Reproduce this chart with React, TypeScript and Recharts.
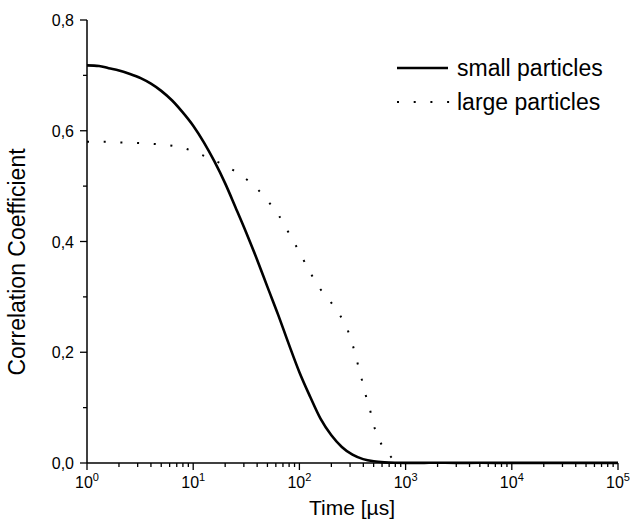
import { LineChart, Line, XAxis, YAxis } from "recharts";

// time axis (µs) and correlation values
const smallTime = [1, 1.3, 1.6, 2, 2.5, 3.2, 4, 5, 6.3, 7.9, 10, 12.6, 15.8, 20, 25, 31.6, 39.8, 50, 63, 79, 100, 126, 158, 200, 251, 316, 398, 501, 631, 794, 1000, 1500, 2000, 3000, 5000, 10000, 20000, 50000, 100000];
const smallValue = [0.718, 0.717, 0.713, 0.709, 0.703, 0.695, 0.685, 0.672, 0.655, 0.634, 0.609, 0.579, 0.545, 0.505, 0.462, 0.416, 0.368, 0.318, 0.268, 0.216, 0.164, 0.12, 0.08, 0.05, 0.029, 0.015, 0.007, 0.003, 0.0012, 0.0005, 0.0003, 0.0003, 0.0005, 0.0002, 0.0004, 0.0002, 0.0003, 0.0002, 0.0002];

const largeTime = [1, 1.5, 2, 3, 4.4, 5.8, 8.7, 12.2, 17.3, 23.8, 31, 40.6, 51.5, 64, 77, 91.7, 109, 129, 156, 193, 241, 285, 320, 351, 383, 418, 462, 504, 574, 692, 800, 1000, 2000, 5000, 10000, 100000];
const largeValue = [0.58, 0.58, 0.579, 0.578, 0.576, 0.574, 0.567, 0.556, 0.543, 0.529, 0.514, 0.494, 0.471, 0.447, 0.42, 0.394, 0.367, 0.341, 0.315, 0.293, 0.267, 0.24, 0.211, 0.182, 0.154, 0.125, 0.096, 0.067, 0.039, 0.016, 0.004, 0, 0, 0, 0, 0];

const xMajorTicks = [1, 10, 100, 1000, 10000, 100000];
const xMinorFactors = [2, 3, 4, 5, 6, 7, 8, 9];
const yTicks = [0, 0.1, 0.2, 0.3, 0.4, 0.5, 0.6, 0.7, 0.8];

const seriesNames = ["small particles", "large particles"];
const xTitle = "Time [µs]";
const yTitle = "Correlation Coefficient";

const smallData = smallTime.map((t, i) => ({ t, v: smallValue[i] }));
const largeData = largeTime.map((t, i) => ({ t, v: largeValue[i] }));

const xTicks = [
  ...xMajorTicks,
  ...xMajorTicks.slice(0, -1).flatMap((d) => xMinorFactors.map((k) => k * d)),
].sort((a, b) => a - b);

const font = "'Liberation Sans', Arial, sans-serif";
const dotted = "2 14.7";

const XTick = (props: any) => {
  const { x, y, payload } = props;
  const value = payload.value as number;
  const exp = Math.round(Math.log10(value));
  const isMajor = Math.abs(Math.pow(10, exp) - value) < 1e-6;
  return (
    <g>
      <line x1={x} y1={y} x2={x} y2={y + (isMajor ? 7 : 4)} stroke="#000" strokeWidth={1.3} />
      {isMajor && (
        <text x={x} y={y + 25} textAnchor="middle" fontSize={16} fontFamily={font} fill="#000">
          <tspan>10</tspan>
          <tspan dy={-7} fontSize={11}>{exp}</tspan>
        </text>
      )}
    </g>
  );
};

const YTick = (props: any) => {
  const { x, y, payload } = props;
  const value = payload.value as number;
  const isMajor = Math.round(value * 10) % 2 === 0;
  return (
    <g>
      <line x1={x - (isMajor ? 7 : 4)} y1={y} x2={x} y2={y} stroke="#000" strokeWidth={1.3} />
      {isMajor && (
        <text x={x - 13} y={y + 6} textAnchor="end" fontSize={16} fontFamily={font} fill="#000">
          {value.toFixed(1).replace(".", ",")}
        </text>
      )}
    </g>
  );
};

const XTitle = () => (
  <text x={352} y={515} textAnchor="middle" fontSize={21} fontFamily={font} fill="#000">
    {xTitle}
  </text>
);

const YTitle = () => (
  <text
    x={25}
    y={262}
    transform="rotate(-90 25 262)"
    textAnchor="middle"
    fontSize={23}
    fontFamily={font}
    fill="#000"
  >
    {yTitle}
  </text>
);

// legend drawn on top of the chart, top right
const LegendBox = () => (
  <svg
    width={240}
    height={80}
    style={{ position: "absolute", left: 392, top: 40 }}
    fontFamily={font}
    fontSize={23}
  >
    <line x1={5} y1={28} x2={56} y2={28} stroke="#000" strokeWidth={2.5} />
    <text x={65} y={36} fill="#000">{seriesNames[0]}</text>
    <line x1={5} y1={62} x2={58} y2={62} stroke="#000" strokeWidth={2} strokeDasharray={dotted} />
    <text x={65} y={70} fill="#000">{seriesNames[1]}</text>
  </svg>
);

const App = () => {
  return (
    <div style={{ position: "absolute", left: 0, top: 0, width: 632, height: 521, background: "#fff" }}>
      <LineChart width={632} height={521} margin={{ top: 20, right: 14, left: 7, bottom: 0 }}>
        <XAxis
          dataKey="t"
          type="number"
          scale="log"
          domain={[1, 100000]}
          allowDataOverflow
          ticks={xTicks}
          interval={0}
          tick={<XTick />}
          tickLine={false}
          tickSize={0}
          tickMargin={0}
          height={58}
          axisLine={{ stroke: "#000", strokeWidth: 1.5 }}
          label={<XTitle />}
        />
        <YAxis
          dataKey="v"
          type="number"
          domain={[0, 0.8]}
          ticks={yTicks}
          interval={0}
          tick={<YTick />}
          tickLine={false}
          tickSize={0}
          tickMargin={0}
          width={80}
          axisLine={{ stroke: "#000", strokeWidth: 1.5 }}
          label={<YTitle />}
        />
        <Line
          data={smallData}
          dataKey="v"
          type="monotone"
          stroke="#000"
          strokeWidth={2.6}
          dot={false}
          isAnimationActive={false}
        />
        <Line
          data={largeData}
          dataKey="v"
          type="monotone"
          stroke="#000"
          strokeWidth={2}
          strokeDasharray={dotted}
          dot={false}
          isAnimationActive={false}
        />
      </LineChart>
      <LegendBox />
    </div>
  );
};

export default App;
